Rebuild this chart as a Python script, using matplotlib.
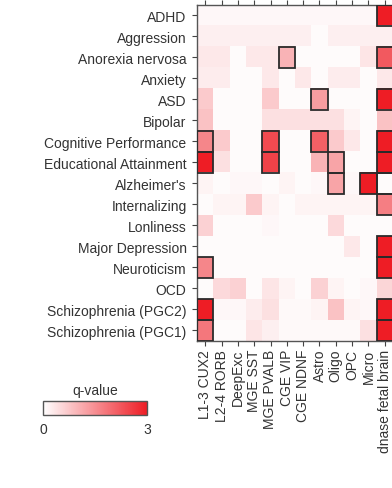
import numpy as np
import matplotlib.pyplot as plt
from matplotlib.colors import LinearSegmentedColormap
from matplotlib.patches import Rectangle

plt.rcParams['font.family'] = ['Liberation Sans', 'DejaVu Sans']

traits = ["ADHD", "Aggression", "Anorexia nervosa", "Anxiety", "ASD", "Bipolar",
          "Cognitive Performance", "Educational Attainment", "Alzheimer's",
          "Internalizing", "Lonliness", "Major Depression", "Neuroticism", "OCD",
          "Schizophrenia (PGC2)", "Schizophrenia (PGC1)"]
cells = ["L1-3 CUX2", "L2-4 RORB", "DeepExc", "MGE SST", "MGE PVALB", "CGE VIP",
         "CGE NDNF", "Astro", "Oligo", "OPC", "Micro", "dnase fetal brain"]

# -log10 q-values (estimated from colour)
qval = np.array([
    [0.10, 0.10, 0.10, 0.10, 0.10, 0.10, 0.10, 0.10, 0.10, 0.10, 0.10, 3.00],
    [0.20, 0.20, 0.20, 0.20, 0.20, 0.20, 0.20, 0.05, 0.20, 0.20, 0.20, 0.20],
    [0.30, 0.30, 0.05, 0.30, 0.30, 1.00, 0.05, 0.05, 0.05, 0.05, 0.35, 2.20],
    [0.25, 0.25, 0.05, 0.05, 0.30, 0.05, 0.30, 0.05, 0.25, 0.25, 0.05, 0.30],
    [0.70, 0.05, 0.05, 0.05, 0.70, 0.05, 0.05, 1.30, 0.05, 0.05, 0.05, 3.00],
    [0.80, 0.05, 0.05, 0.05, 0.40, 0.40, 0.40, 0.40, 0.40, 0.15, 0.05, 0.80],
    [1.60, 0.70, 0.05, 0.05, 2.40, 0.05, 0.05, 2.10, 0.70, 0.30, 0.05, 3.00],
    [3.00, 0.40, 0.05, 0.05, 2.50, 0.05, 0.05, 1.00, 1.20, 0.05, 0.05, 3.00],
    [0.15, 0.05, 0.10, 0.10, 0.05, 0.15, 0.05, 0.10, 1.20, 0.10, 3.00, 0.05],
    [0.05, 0.15, 0.15, 0.70, 0.15, 0.05, 0.15, 0.15, 0.15, 0.15, 0.15, 1.70],
    [0.60, 0.05, 0.05, 0.05, 0.10, 0.05, 0.05, 0.05, 0.50, 0.05, 0.05, 0.05],
    [0.05, 0.05, 0.05, 0.05, 0.05, 0.05, 0.05, 0.05, 0.05, 0.30, 0.05, 3.00],
    [1.60, 0.05, 0.05, 0.05, 0.05, 0.05, 0.05, 0.05, 0.05, 0.05, 0.05, 3.00],
    [0.05, 0.50, 0.60, 0.05, 0.35, 0.15, 0.05, 0.60, 0.15, 0.05, 0.10, 0.55],
    [3.00, 0.10, 0.10, 0.25, 0.40, 0.08, 0.08, 0.15, 0.80, 0.15, 0.10, 3.00],
    [1.80, 0.05, 0.05, 0.35, 0.20, 0.08, 0.08, 0.08, 0.08, 0.08, 0.40, 3.00],
])

# significant cells (boxed)
sig = np.zeros_like(qval, dtype=bool)
sig_cells = [(0, 11), (2, 5), (2, 11), (4, 7), (4, 11), (6, 0), (6, 4), (6, 7),
             (6, 11), (7, 0), (7, 4), (7, 8), (7, 11), (8, 8), (8, 10), (8, 11),
             (9, 11), (11, 11), (12, 0), (12, 11), (14, 0), (14, 11), (15, 0), (15, 11)]
for r, c in sig_cells:
    sig[r, c] = True

cmap = LinearSegmentedColormap.from_list("wr", ["#ffffff", "#ee1d25"])
txt = "#333333"

fig = plt.figure(figsize=(3.92, 4.89), dpi=100)
ax = fig.add_axes([197 / 392, 1 - 342 / 489, 196 / 392, 336.5 / 489])
im = ax.imshow(qval, cmap=cmap, vmin=0, vmax=3, aspect="auto", interpolation="nearest")

for r, c in zip(*np.nonzero(sig)):
    ax.add_patch(Rectangle((c - 0.5, r - 0.5), 1, 1, fill=False,
                           edgecolor="#2b2b2b", linewidth=1.3, zorder=3))

ax.set_yticks(range(len(traits)))
ax.set_yticklabels(traits, fontsize=10, color=txt)
ax.set_xticks(range(len(cells)))
ax.set_xticklabels(cells, rotation=90, fontsize=10, color=txt)
ax.tick_params(axis="x", top=True, bottom=True, labeltop=False, length=3.5,
               color="#444444", pad=2)
ax.tick_params(axis="y", length=3.5, color="#444444", pad=4)
for s in ax.spines.values():
    s.set_color("#555555")
    s.set_linewidth(1.0)
ax.spines["right"].set_visible(False)

cax = fig.add_axes([43 / 392, 1 - 416 / 489, 104 / 392, 14 / 489])
cb = fig.colorbar(im, cax=cax, orientation="horizontal")
cb.set_ticks([0, 3])
cb.ax.tick_params(length=0, labelsize=10, labelcolor=txt, pad=5)
cb.outline.set_edgecolor("#555555")
cb.outline.set_linewidth(1.0)
cax.set_title("q-value", fontsize=10, color=txt, pad=5)

fig.savefig("out.png", dpi=100)
